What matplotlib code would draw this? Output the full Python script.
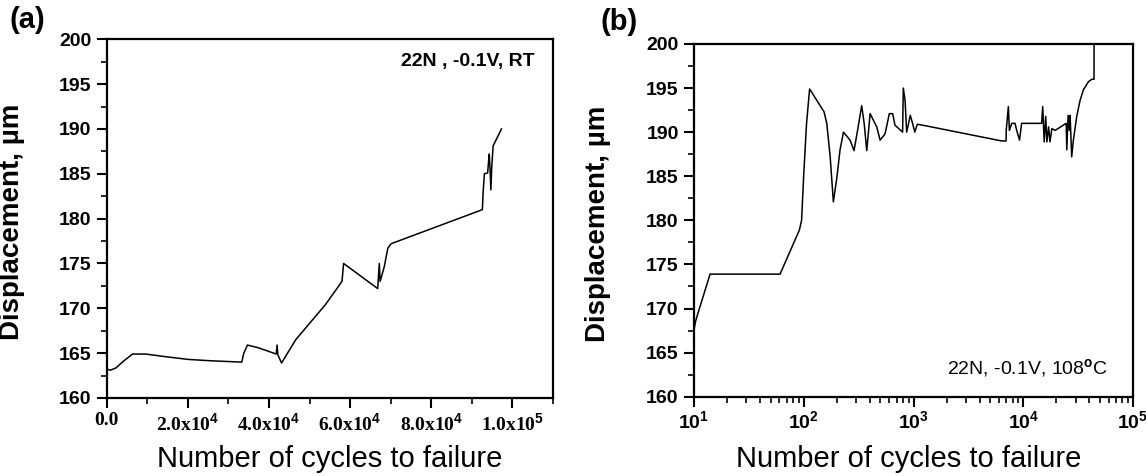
import matplotlib
matplotlib.use("Agg")
import matplotlib.pyplot as plt
from matplotlib.ticker import MultipleLocator, LogLocator, NullFormatter

plt.rcParams['font.family'] = ['Liberation Sans', 'DejaVu Sans']
plt.rcParams['mathtext.fontset'] = 'custom'
plt.rcParams['mathtext.rm'] = 'Liberation Sans:bold'
plt.rcParams['mathtext.it'] = 'Liberation Sans:bold'
plt.rcParams['mathtext.bf'] = 'Liberation Sans:bold'

# panel (a): room temperature, linear cycles
cycles_a = [0, 60, 910, 2280, 4110, 6390, 9590, 14600, 20100, 25600, 33300, 33800,
            34700, 37400, 41800, 42000, 42200, 43100, 46600, 53900, 58000, 58400,
            66800, 67200, 67400, 68400, 69300, 70100, 92600, 92800, 93100, 93900,
            94100, 94300, 94500, 94700, 94900, 95250, 97300]
disp_a = [165.0, 163.2, 163.1, 163.35, 164.1, 164.9, 164.9, 164.6, 164.3, 164.15, 164.0, 165.0,
          165.9, 165.6, 164.9, 165.9, 164.8, 163.9, 166.5, 170.4, 173.0, 175.0,
          172.2, 175.0, 173.0, 174.6, 176.7, 177.2, 181.0, 183.0, 185.0, 185.1,
          186.2, 187.2, 185.5, 183.2, 185.6, 188.1, 190.0]

# panel (b): 108 C, log cycles
cycles_b = [10, 10.4, 14, 60.8, 91.2, 95.5, 100, 106, 113, 153, 162, 174, 186, 200, 214,
            230, 264, 287, 309, 337, 355, 375, 402, 462, 496, 550, 602, 646, 677, 795,
            807, 837, 866, 934, 980, 1026, 1083, 1320, 6370, 6970, 6990, 7310, 7470,
            7850, 8410, 8710, 9240, 9660, 14700, 15030, 15500, 16000, 16400, 17000,
            17500, 18200, 19500, 23200, 24600, 24900, 25600, 26300, 26700, 27600,
            28600, 30700, 32900, 35300, 39100, 42000, 44100, 44150]
disp_b = [167.6, 168.7, 173.9, 173.9, 178.9, 180.0, 185.3, 191.0, 194.9, 192.3, 191.0,
          187.2, 182.1, 184.8, 188.0, 190.0, 189.1, 187.9, 190.2, 193.0, 191.0, 187.9,
          192.1, 190.6, 189.1, 189.8, 192.1, 192.1, 190.8, 190.0, 195.0, 193.6, 190.0,
          191.9, 191.0, 190.0, 190.9, 190.7, 189.0, 189.0, 190.2, 192.9, 190.2, 191.0,
          191.0, 190.2, 189.1, 191.0, 191.0, 192.9, 188.9, 191.8, 188.9, 190.6, 188.9,
          190.4, 190.2, 190.8, 191.0, 188.0, 191.9, 190.2, 191.9, 187.2, 189.1, 191.8,
          193.6, 194.8, 195.7, 196.0, 196.0, 200.0]

xticks_a = [0, 20000, 40000, 60000, 80000, 100000]
xlabels_a = ['0.0', '2.0x10$^{4}$', '4.0x10$^{4}$', '6.0x10$^{4}$', '8.0x10$^{4}$', '1.0x10$^{5}$']
xticks_b = [10, 100, 1000, 10000, 100000]
xlabels_b = ['10$^{1}$', '10$^{2}$', '10$^{3}$', '10$^{4}$', '10$^{5}$']
yticks = [160, 165, 170, 175, 180, 185, 190, 195, 200]

fig = plt.figure(figsize=(11.46, 4.76), dpi=100)
ax1 = fig.add_axes([0.0931, 0.1639, 0.3894, 0.7536])
ax2 = fig.add_axes([0.6056, 0.1666, 0.3831, 0.7410])

ax1.plot(cycles_a, disp_a, color='black', lw=1.1)
ax2.plot(cycles_b, disp_b, color='black', lw=1.1)
ax2.set_xscale('log')

ax1.set_xlim(0, 110000)
ax2.set_xlim(10, 100000)
for ax in (ax1, ax2):
    ax.set_ylim(160, 200)
    ax.set_yticks(yticks)
    ax.set_yticklabels([str(v) for v in yticks], fontsize=14, fontweight='bold')
    ax.yaxis.set_minor_locator(MultipleLocator(2.5))
    for s in ax.spines.values():
        s.set_linewidth(1.6)
    ax.tick_params(which='major', direction='out', length=7, width=1.5, pad=4)
    ax.tick_params(axis='x', which='major', pad=3)
    ax.tick_params(which='minor', direction='out', length=4, width=1.2)
    ax.set_ylabel('Displacement, µm', fontsize=20, fontweight='bold')
    ax.set_xlabel('Number of cycles to failure', fontsize=21, va='baseline')

ax1.set_xticks(xticks_a)
ax1.set_xticklabels(xlabels_a, fontsize=14, fontweight='bold', family='Liberation Serif')
ax1.xaxis.set_minor_locator(MultipleLocator(10000))

ax2.set_xticks(xticks_b)
ax2.set_xticklabels(xlabels_b, fontsize=14, fontweight='bold')
ax2.xaxis.set_minor_locator(LogLocator(base=10, subs=range(2, 10)))
ax2.xaxis.set_minor_formatter(NullFormatter())

ax1.yaxis.set_label_coords(-0.183, 0.49)
ax2.yaxis.set_label_coords(-0.189, 0.49)
ax1.xaxis.set_label_coords(0.5, -0.193)
ax2.xaxis.set_label_coords(0.49, -0.199)

ax1.text(0.96, 0.937, '22N , -0.1V, RT', transform=ax1.transAxes, ha='right', va='center',
         fontsize=14, fontweight='bold')
ax2.text(0.943, 0.081, '22N, -0.1V, 108$^{\\mathrm{o}}$C', transform=ax2.transAxes, ha='right',
         va='center', fontsize=14)

fig.text(0.008, 1 - 20 / 476, '(a)', fontsize=21, fontweight='bold', va='center', ha='left')
fig.text(0.524, 1 - 22 / 476, '(b)', fontsize=21, fontweight='bold', va='center', ha='left')

fig.savefig('out.png', dpi=100)
